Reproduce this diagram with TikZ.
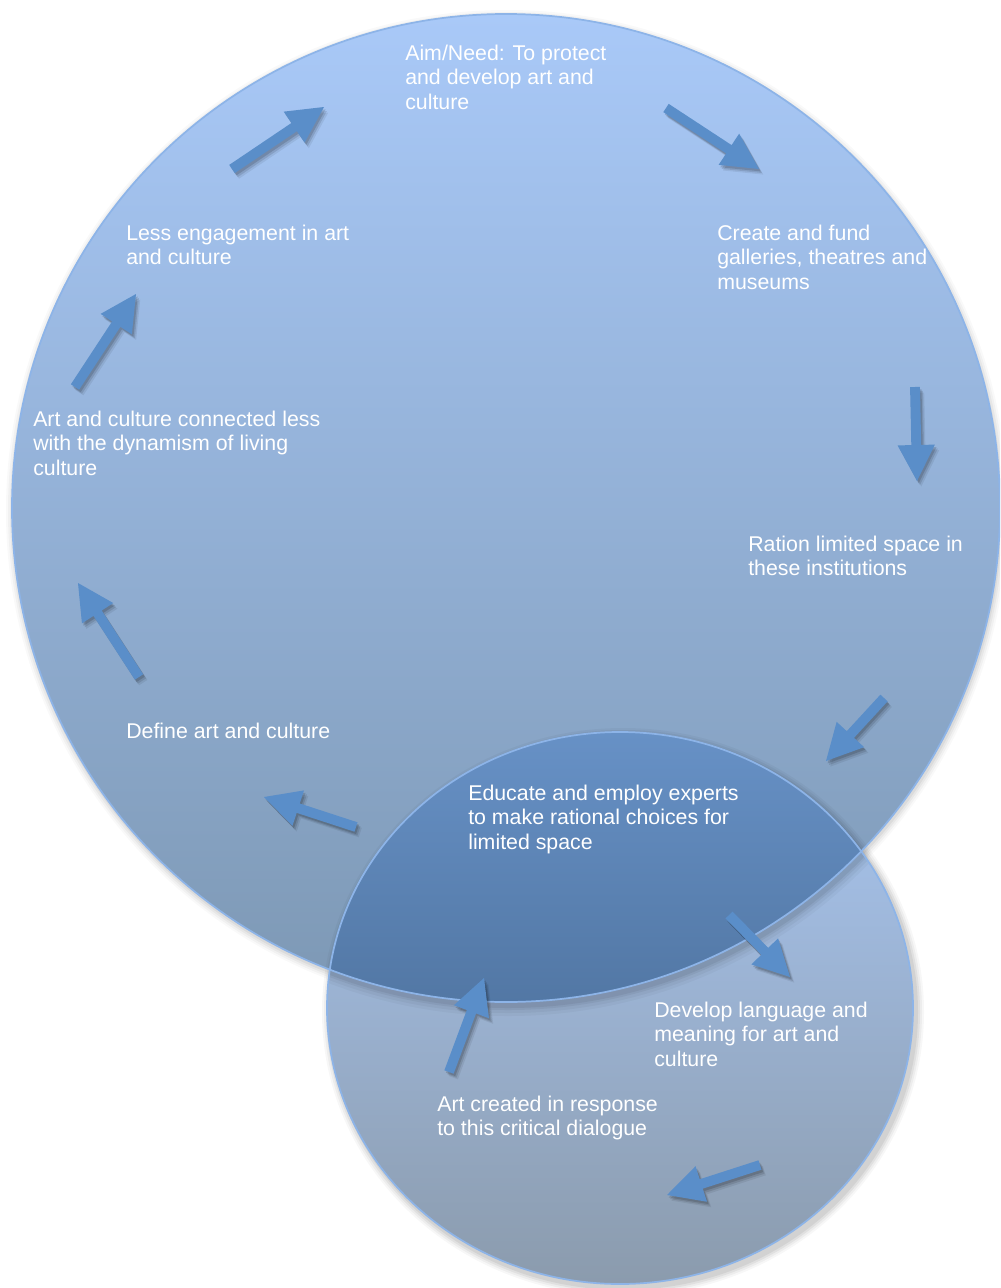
\documentclass[tikz,border=0pt]{standalone}
\usepackage{fontspec}
\setmainfont{Liberation Sans}
\usetikzlibrary{calc}
\definecolor{bigtop}{HTML}{A9C9F8}
\definecolor{bigbot}{HTML}{7D98B4}
\definecolor{smtop}{HTML}{A9C7F3}
\definecolor{smbot}{HTML}{8B9BAD}
\definecolor{ovtop}{HTML}{6791C6}
\definecolor{ovbot}{HTML}{5277A4}
\definecolor{arrowblue}{HTML}{5A8EC9}
\definecolor{rimblue}{HTML}{8DB4E8}
\def\asw{3.7pt}
\def\ahw{14pt}
\def\ahl{27pt}
\newcommand{\arrowpath}[2]{($(#1)!\asw!90:(#2)$) -- ($(#1hb)!\asw!90:(#2)$) -- ($(#1hb)!\ahw!90:(#2)$) -- (#2) -- ($(#1hb)!\ahw!-90:(#2)$) -- ($(#1hb)!\asw!-90:(#2)$) -- ($(#1)!\asw!-90:(#2)$) -- cycle}
\newcommand{\blockarr}[2]{%
  \coordinate (#1hb) at ($(#2)!\ahl!(#1)$);
  \foreach \dx/\dy/\op in {1.2/-1.8/0.14, 2.2/-3.0/0.11, 3.2/-4.2/0.07}{
    \fill[black, opacity=\op, transform canvas={shift={(\dx pt,\dy pt)}}] \arrowpath{#1}{#2};
  }
  \fill[arrowfill] \arrowpath{#1}{#2};
}
\tikzset{
  lbl/.style={anchor=north west, inner sep=0pt, text=white, align=left,
    font=\fontsize{16pt}{18.4pt}\selectfont},
  arrowfill/.style={fill=arrowblue},
  rim/.style={draw=rimblue, line width=1.3},
}
\begin{document}
\begin{tikzpicture}[x=0.75pt,y=-0.75pt]
\useasboundingbox (0,0) rectangle (1000,1288);
\fill[white] (0,0) rectangle (1000,1288);
\clip (0,0) rectangle (1000,1288);
% big circle shadow
\foreach \k/\op in {7/0.025,5/0.03,3/0.04,1/0.05}{
  \fill[black,opacity=\op] (507,511) circle[radius=494+\k];
}
\shade[top color=bigtop, bottom color=bigbot] (506,508) circle[radius=494];
% small ellipse shadow
\foreach \k/\op in {8/0.03,6/0.04,4/0.05,2/0.06}{
  \fill[black,opacity=\op] (623,1012) ellipse[x radius=293+\k, y radius=276+\k];
}
\shade[top color=smtop, bottom color=smbot] (620,1008) ellipse[x radius=293, y radius=276];
% shadow of big circle seen through small ellipse
\begin{scope}
  \clip (620,1008) ellipse[x radius=293, y radius=276];
  \foreach \k/\op in {9/0.03,6/0.04,3/0.05,1/0.06}{
    \fill[black,opacity=\op] (508,513) circle[radius=494+\k];
  }
\end{scope}
% overlap
\begin{scope}
  \clip (506,508) circle[radius=494];
  \clip (620,1008) ellipse[x radius=293, y radius=276];
  \shade[top color=ovtop, bottom color=ovbot] (300,732) rectangle (920,1004);
\end{scope}
\draw[rim] (506,508) circle[radius=494];
\draw[rim] (620,1008) ellipse[x radius=293, y radius=276];
% labels
\node[lbl] (aim) at (405,44.5) {Aim/Need: To protect\\and develop art and\\culture};
\node[lbl] (create) at (717,224.5) {Create and fund\\galleries, theatres and\\museums};
\node[lbl] (ration) at (748,535.5) {Ration limited space in\\these institutions};
\node[lbl] (educate) at (468,784.5) {Educate and employ experts\\to make rational choices for\\limited space};
\node[lbl] (develop) at (654,1001.5) {Develop language and\\meaning for art and\\culture};
\node[lbl] (response) at (437,1095.5) {Art created in response\\to this critical dialogue};
\node[lbl] (define) at (126,722.5) {Define art and culture};
\node[lbl] (connected) at (33,410.5) {Art and culture connected less\\with the dynamism of living\\culture};
\node[lbl] (less) at (126,224.5) {Less engagement in art\\and culture};
% arrow end points
\coordinate (aAt) at (232,169); \coordinate (aAh) at (324,107);
\coordinate (aBt) at (666,108); \coordinate (aBh) at (759,169);
\coordinate (aCt) at (915,387); \coordinate (aCh) at (917,481);
\coordinate (aDt) at (884,698); \coordinate (aDh) at (826,761);
\coordinate (aEt) at (729,915); \coordinate (aEh) at (790,977);
\coordinate (aFt) at (760,1165); \coordinate (aFh) at (667,1195);
\coordinate (aGt) at (449,1072); \coordinate (aGh) at (484,978);
\coordinate (aHt) at (356,827); \coordinate (aHh) at (264,797);
\coordinate (aIt) at (139,677); \coordinate (aIh) at (78,583);
\coordinate (aJt) at (75,387); \coordinate (aJh) at (136,294);
\blockarr{aAt}{aAh}
\blockarr{aBt}{aBh}
\blockarr{aCt}{aCh}
\blockarr{aDt}{aDh}
\blockarr{aEt}{aEh}
\blockarr{aFt}{aFh}
\blockarr{aGt}{aGh}
\blockarr{aHt}{aHh}
\blockarr{aIt}{aIh}
\blockarr{aJt}{aJh}
\end{tikzpicture}
\end{document}
